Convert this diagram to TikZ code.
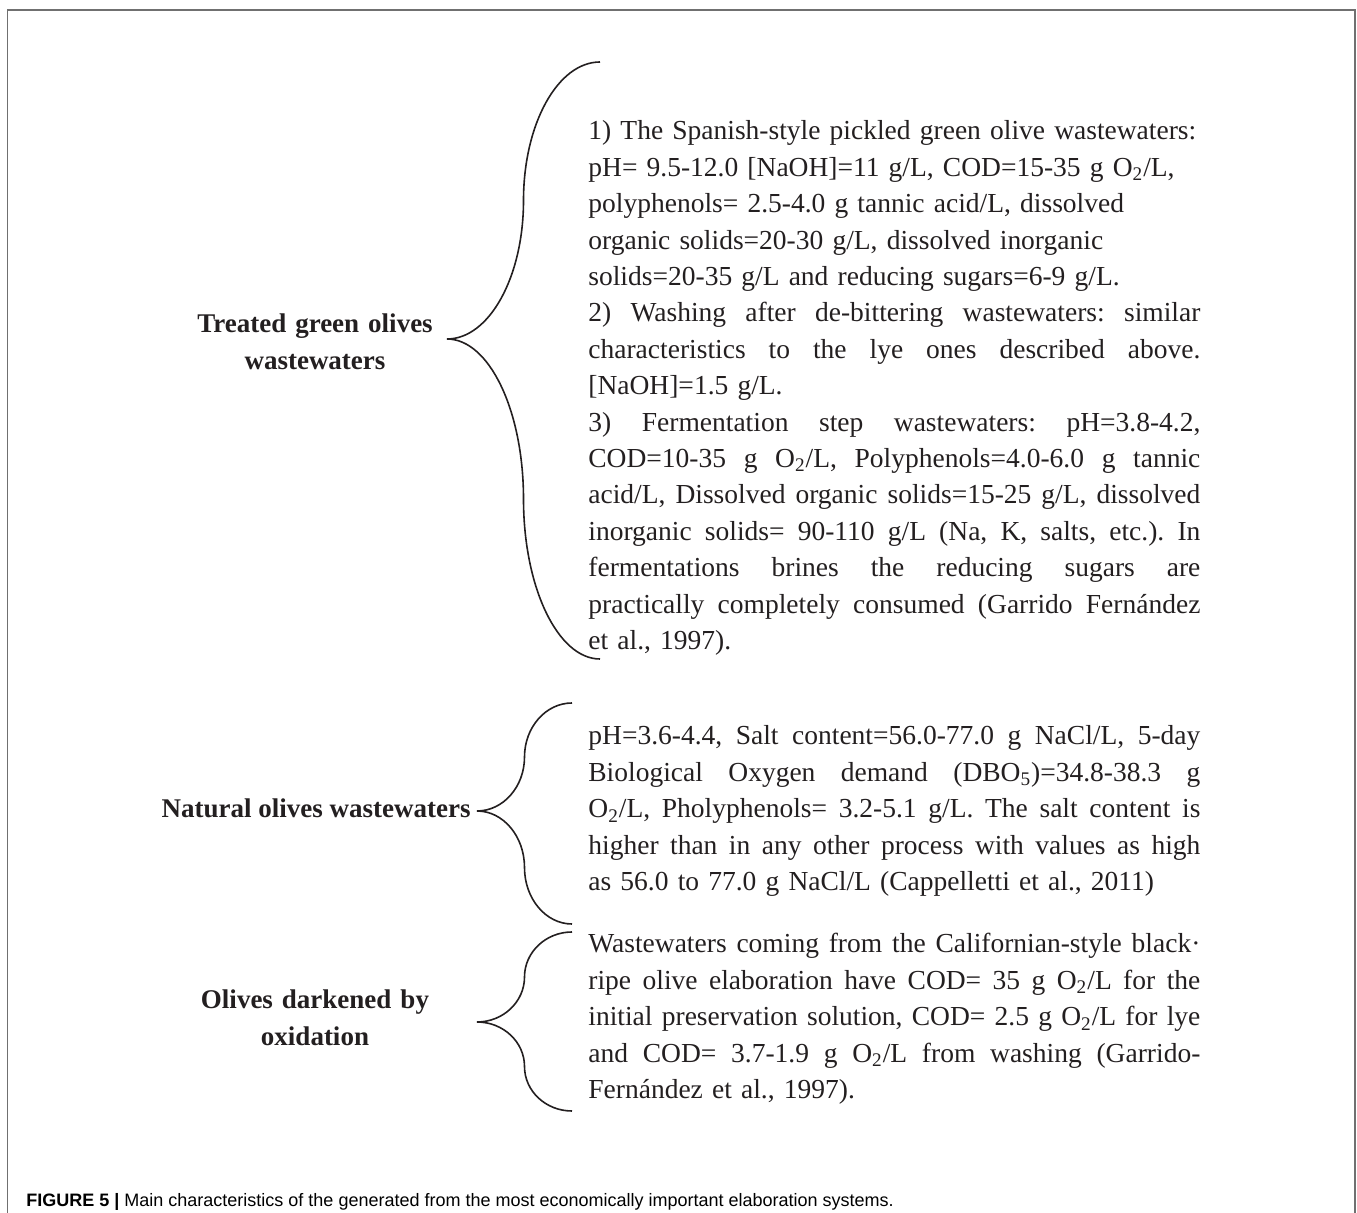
\documentclass[tikz,border=0pt]{standalone}
\usepackage{fontspec}
\setmainfont{Liberation Serif}
\setsansfont{Liberation Sans}
\usepackage{tikz}
\definecolor{framegray}{RGB}{112,112,112}
\definecolor{inkgray}{RGB}{35,31,32}
\newcommand{\jline}[1]{\noindent\hbox to 306pt{\frenchspacing\spaceskip=\fontdimen2\font plus 1fil minus \fontdimen4\font\relax #1}}
\newcommand{\Oxy}{O\textsubscript{2}}

\begin{document}
\begin{tikzpicture}[x=0.5pt,y=-0.5pt,
  body/.style={anchor=base west,inner sep=0pt,text width=306pt,align=left,
    font=\fontsize{13.75}{18.2}\selectfont,text=inkgray},
  sidelabel/.style={inner sep=0pt,font=\bfseries\fontsize{13.5}{18.2}\selectfont,text=inkgray},
  bracecurve/.style={line width=0.8pt,inkgray}]

\useasboundingbox (0,0) rectangle (1357,1213);

% frame
\draw[framegray,line width=0.9pt] (7.5,1213) -- (7.5,10) -- (1355,10) -- (1355,1213);

% left labels
\node[sidelabel,text width=200pt,align=center,anchor=base] (treated) at (315,333)
  {Treated green olives\\wastewaters};
\node[sidelabel,anchor=base east] (natural) at (471,818) {Natural olives wastewaters};
\node[sidelabel,text width=200pt,align=center,anchor=base] (darkened) at (315,1009)
  {Olives darkened by\\oxidation};

% right texts
\node[body] (treatedtext) at (588,140) {1) The Spanish-style pickled green olive wastewaters:\\
pH= 9.5-12.0 [NaOH]=11 g/L, COD=15-35 g \Oxy/L,\\
polyphenols= 2.5-4.0 g tannic acid/L, dissolved\\
organic solids=20-30 g/L, dissolved inorganic\\
solids=20-35 g/L and reducing sugars=6-9 g/L.\\
\jline{2) Washing after de-bittering wastewaters: similar}\\
\jline{characteristics to the lye ones described above.}\\
\relax[NaOH]=1.5 g/L.\\
\jline{3) Fermentation step wastewaters: pH=3.8-4.2,}\\
\jline{COD=10-35 g \Oxy/L, Polyphenols=4.0-6.0 g tannic}\\
\jline{acid/L, Dissolved organic solids=15-25 g/L, dissolved}\\
\jline{inorganic solids= 90-110 g/L (Na, K, salts, etc.). In}\\
\jline{fermentations brines the reducing sugars are}\\
\jline{practically completely consumed (Garrido Fernández}\\
et al., 1997).};

\node[body] (naturaltext) at (588,745) {\jline{pH=3.6-4.4, Salt content=56.0-77.0 g NaCl/L, 5-day}\\
\jline{Biological Oxygen demand (DBO\textsubscript{5})=34.8-38.3 g}\\
\jline{\Oxy/L, Pholyphenols= 3.2-5.1 g/L. The salt content is}\\
\jline{higher than in any other process with values as high}\\
as 56.0 to 77.0 g NaCl/L (Cappelletti et al., 2011)};

\node[body] (darkenedtext) at (588,953) {\jline{Wastewaters coming from the Californian-style black·}\\
\jline{ripe olive elaboration have COD= 35 g \Oxy/L for the}\\
\jline{initial preservation solution, COD= 2.5 g \Oxy/L for lye}\\
\jline{and COD= 3.7-1.9 g \Oxy/L from washing (Garrido-}\\
Fernández et al., 1997).};

% braces
\coordinate (b1t) at (600,62);
\coordinate (b1m) at (447,339);
\coordinate (b1b) at (600,659);
\draw[bracecurve] (b1t) .. controls (557.8,62) and (523.5,124) .. (523.5,200.5)
  .. controls (523.5,277) and (489.2,339) .. (b1m)
  .. controls (489.2,339) and (523.5,410.7) .. (523.5,499)
  .. controls (523.5,587.3) and (557.8,659) .. (b1b);

\coordinate (b2t) at (572,703);
\coordinate (b2m) at (477,811);
\coordinate (b2b) at (572,924);
\draw[bracecurve] (b2t) .. controls (545.8,703) and (524.5,727.2) .. (524.5,757)
  .. controls (524.5,786.8) and (503.2,811) .. (b2m)
  .. controls (503.2,811) and (524.5,836.3) .. (524.5,867.5)
  .. controls (524.5,898.7) and (545.8,924) .. (b2b);

\coordinate (b3t) at (572,932);
\coordinate (b3m) at (477,1022);
\coordinate (b3b) at (572,1111);
\draw[bracecurve] (b3t) .. controls (545.8,932) and (524.5,952.2) .. (524.5,977)
  .. controls (524.5,1001.8) and (503.2,1022) .. (b3m)
  .. controls (503.2,1022) and (524.5,1041.9) .. (524.5,1066.5)
  .. controls (524.5,1091.1) and (545.8,1111) .. (b3b);

% caption
\node[anchor=base west,inner sep=0pt,font=\sffamily\fontsize{9}{11}\selectfont] (caption) at (26,1207)
  {\textbf{FIGURE 5 |} Main characteristics of the generated from the most economically important elaboration systems.};

\end{tikzpicture}
\end{document}
